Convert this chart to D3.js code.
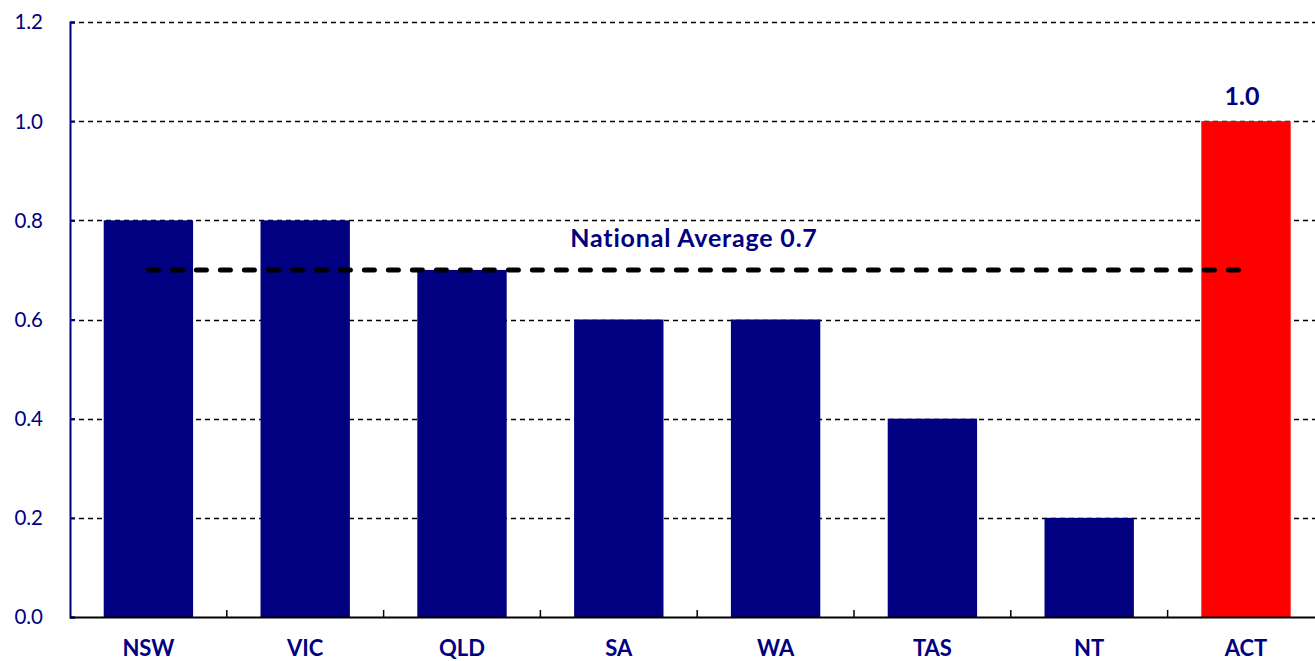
<!DOCTYPE html>
<html><head><meta charset="utf-8">
<script src="https://cdn.jsdelivr.net/npm/d3@7"></script>
<style>body{margin:0;background:#fff;} svg{display:block;} text{font-family:Lato, "Open Sans", sans-serif;}</style>
</head><body>
<svg id="c" width="1315" height="661"></svg>
<script>
const categories = ["NSW","VIC","QLD","SA","WA","TAS","NT","ACT"];
const values = [0.8,0.8,0.7,0.6,0.6,0.4,0.2,1.0];
const barColors = ["#000080","#000080","#000080","#000080","#000080","#000080","#000080","#FF0000"];
const yTicks = [0,0.2,0.4,0.6,0.8,1.0,1.2];
const nationalAverage = 0.7;
const avgLabel = "National Average 0.7";
const highlightLabel = "1.0";

(function(){
const svg = d3.select("#c");
const pL = 70, pR = 70 + 8*156.8, pT = 22, pB = 617;
const x = d3.scaleBand().domain(categories).range([pL, pR]).paddingInner(0.43).paddingOuter(0.215);
const y = d3.scaleLinear().domain([0,1.2]).range([pB, pT]);
const navy = "#000080";

// gridlines
svg.append("g").selectAll("line").data(yTicks.filter(d=>d>0)).join("line")
  .attr("x1", pL).attr("x2", 1315)
  .attr("y1", d=>Math.round(y(d))+0.5).attr("y2", d=>Math.round(y(d))+0.5)
  .attr("stroke","#000").attr("stroke-width",1.4).attr("stroke-dasharray","5,4");

// bars
svg.append("g").selectAll("rect").data(categories).join("rect")
  .attr("x", d=>x(d)).attr("width", x.bandwidth())
  .attr("y", (d,i)=>y(values[i])).attr("height", (d,i)=>y(0)-y(values[i]))
  .attr("fill", (d,i)=>barColors[i]);

// y axis
const ya = d3.axisRight(y).tickValues(yTicks).tickSize(5).tickFormat("");
const yg = svg.append("g").attr("transform",`translate(${pL},0)`).call(ya);
yg.select(".domain").attr("stroke",navy).attr("stroke-width",2);
yg.selectAll(".tick line").attr("stroke",navy).attr("stroke-width",2);
svg.append("g").selectAll("text").data(yTicks).join("text")
  .attr("x",43).attr("y",d=>y(d)).attr("dy","0.36em").attr("text-anchor","end")
  .attr("fill",navy).attr("font-size",20.5).text(d=>d3.format(".1f")(d));

// x axis
svg.append("line").attr("x1",pL).attr("x2",1315).attr("y1",pB+0.5).attr("y2",pB+0.5)
  .attr("stroke","#000").attr("stroke-width",2);
const bounds = categories.slice(1).map(c=>x(c) - x.step()*x.paddingInner()/2);
svg.append("g").selectAll("line").data(bounds).join("line")
  .attr("x1",d=>d).attr("x2",d=>d).attr("y1",pB).attr("y2",pB-7)
  .attr("stroke","#000").attr("stroke-width",1.5);
svg.append("g").selectAll("text").data(categories).join("text")
  .attr("x",d=>x(d)+x.bandwidth()/2).attr("y",656).attr("text-anchor","middle")
  .attr("fill",navy).attr("font-size",22).attr("font-weight","bold").text(d=>d);

// national average line
const x1 = x(categories[0]) + x.bandwidth()/2, x2 = x(categories[categories.length-1]) + x.bandwidth()/2 - 4;
svg.append("line").attr("x1",x1).attr("x2",x2).attr("y1",y(nationalAverage)).attr("y2",y(nationalAverage))
  .attr("stroke","#000").attr("stroke-width",5).attr("stroke-dasharray","10,14").attr("stroke-linecap","round");
svg.append("text").attr("x",694).attr("y",247).attr("text-anchor","middle")
  .attr("fill",navy).attr("font-size",25).attr("font-weight","bold").attr("letter-spacing",0.8).text(avgLabel);

// ACT label
svg.append("text").attr("x",x("ACT")+x.bandwidth()/2-4).attr("y",y(1.0)-16).attr("text-anchor","middle")
  .attr("fill",navy).attr("font-size",25).attr("font-weight","bold").text(highlightLabel);
})();
</script>
</body></html>
